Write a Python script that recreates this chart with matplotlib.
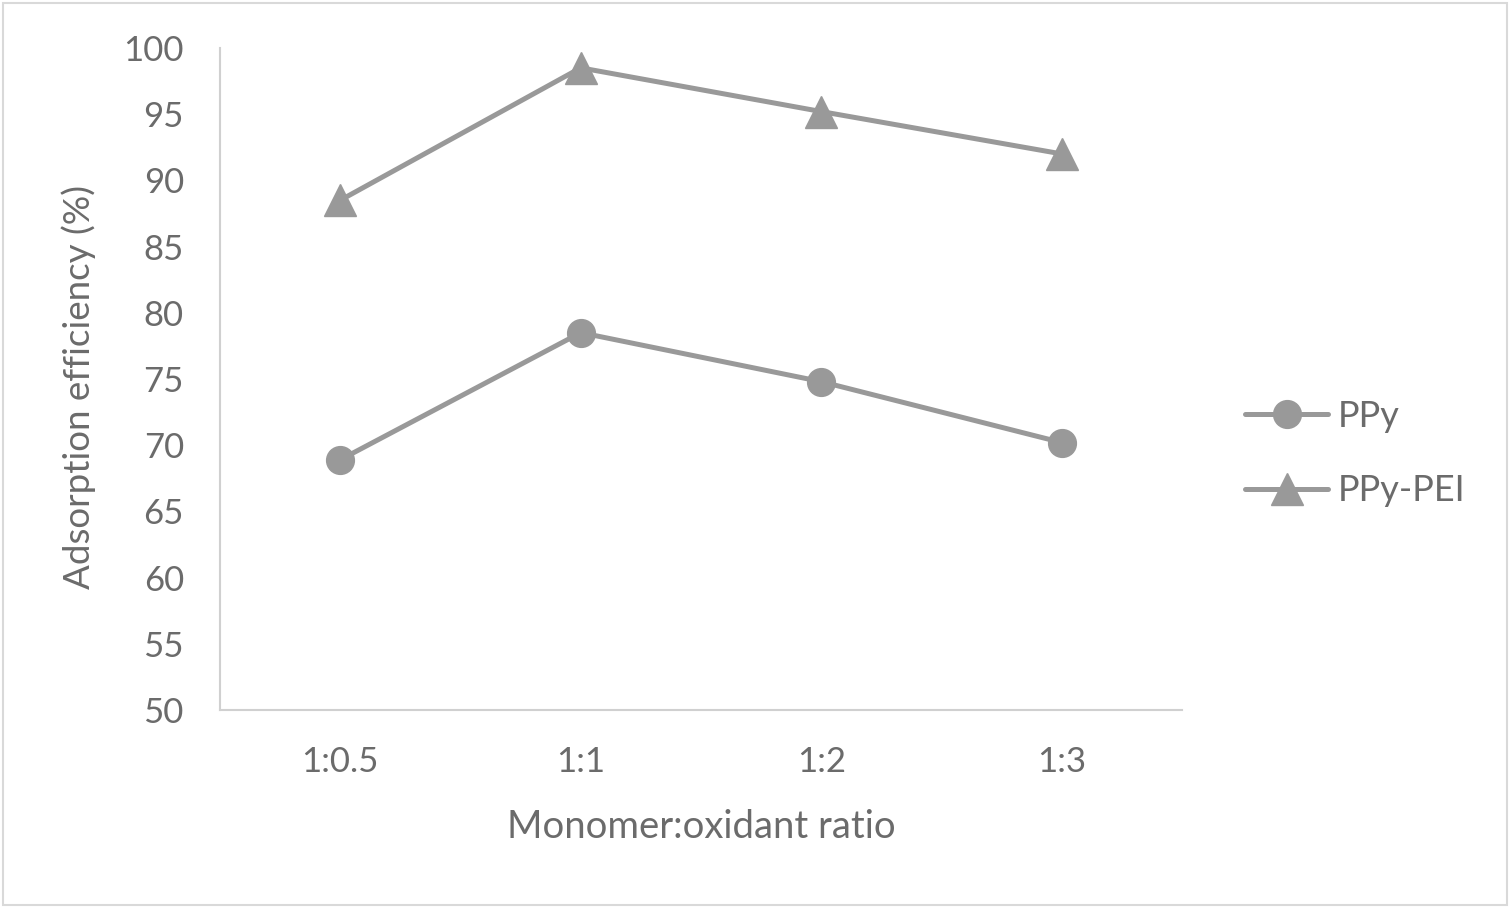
import matplotlib.pyplot as plt
from matplotlib.patches import Rectangle

# data
ratios = ["1:0.5", "1:1", "1:2", "1:3"]
ppy = [68.9, 78.5, 74.8, 70.2]
ppy_pei = [88.5, 98.5, 95.2, 92.0]

plt.rcParams['font.family'] = ['Lato', 'DejaVu Sans']
txt = "#6b6b6b"
ser = "#999999"

fig = plt.figure(figsize=(15.1, 9.08), dpi=100)
ax = fig.add_axes([220 / 1510, 1 - 710 / 908, 962 / 1510, 662 / 908])

x = list(range(len(ratios)))
ax.plot(x, ppy, color=ser, lw=3.6, marker="o", ms=20, label="PPy",
        solid_capstyle="round")
ax.plot(x, ppy_pei, color=ser, lw=3.6, marker="^", ms=23, label="PPy-PEI",
        solid_capstyle="round")

ax.set_xlim(-0.5, 3.5)
ax.set_ylim(50, 100)
ax.set_yticks(range(50, 101, 5))
ax.set_xticks(x)
ax.set_xticklabels(ratios)
ax.tick_params(axis="both", length=0, labelsize=25, colors=txt)
ax.tick_params(axis="y", pad=26)
ax.tick_params(axis="x", pad=26)

for s in ["top", "right"]:
    ax.spines[s].set_visible(False)
for s in ["left", "bottom"]:
    ax.spines[s].set_color("#d0d0d0")
    ax.spines[s].set_linewidth(1.5)

ax.set_xlabel("Monomer:oxidant ratio", fontsize=27.5, color=txt, labelpad=22)
ax.set_ylabel("Adsorption efficiency (%)", fontsize=26.5, color=txt)
ax.yaxis.set_label_coords(-0.129, 0.488)

leg = ax.legend(loc="center left", bbox_to_anchor=(0.815, 0.5006),
                bbox_transform=fig.transFigure, borderaxespad=0, frameon=False,
                fontsize=26, labelcolor=txt, handlelength=2.3,
                labelspacing=1.15, handletextpad=0.26)

fig.patches.append(Rectangle((0.002, 0.003), 0.996, 0.994, transform=fig.transFigure,
                             fill=False, edgecolor="#d9d9d9", lw=1.5))

fig.savefig("out.png", dpi=100)
